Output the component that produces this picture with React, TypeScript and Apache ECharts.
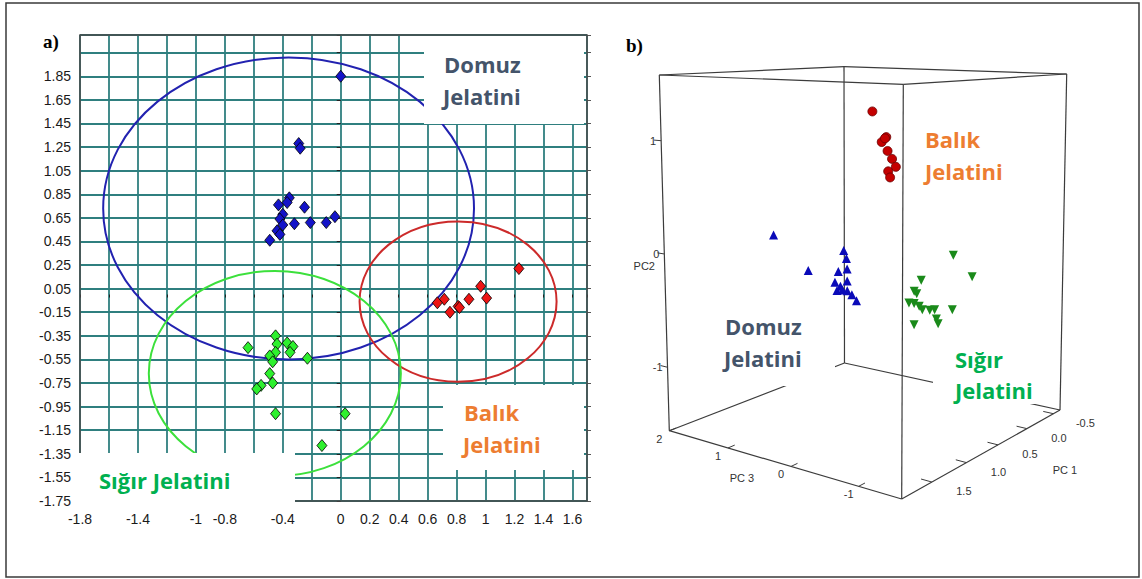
import React, { useEffect, useRef } from "react";
import * as echarts from "echarts";

const W = 1142;
const H = 579;

// ---------------- Panel a) : 2D score plot ----------------
const domuzA: number[][] = [
  [0.0, 1.85], [-0.29, 1.28], [-0.28, 1.24], [-0.355, 0.82], [-0.37, 0.78],
  [-0.43, 0.76], [-0.25, 0.74], [-0.4, 0.68], [-0.42, 0.64], [-0.4, 0.59],
  [-0.32, 0.6], [-0.21, 0.61], [-0.1, 0.61], [-0.04, 0.66], [-0.44, 0.54],
  [-0.42, 0.51], [-0.49, 0.46],
];
const balikA: number[][] = [
  [1.23, 0.22], [0.966, 0.07], [1.007, -0.03], [0.885, -0.04], [0.81, -0.1],
  [0.82, -0.11], [0.754, -0.15], [0.715, -0.04], [0.667, -0.07],
];
const sigirA: number[][] = [
  [-0.64, -0.45], [-0.45, -0.35], [-0.44, -0.42], [-0.37, -0.41], [-0.33, -0.44],
  [-0.35, -0.49], [-0.45, -0.49], [-0.49, -0.52], [-0.47, -0.57], [-0.23, -0.54],
  [-0.49, -0.67], [-0.47, -0.75], [-0.55, -0.77], [-0.58, -0.8], [-0.45, -1.01],
  [0.03, -1.01], [-0.13, -1.28],
];
// confidence ellipses: [centerX, centerY, radiusX, radiusY]
const ellipseDomuzA = [-0.36, 0.73, 1.28, 1.28];
const ellipseBalikA = [0.81, -0.06, 0.68, 0.68];
const ellipseSigirA = [-0.455, -0.67, 0.87, 0.87];
const ellipseColors = ["#2222b0", "#cc2a2a", "#3ce03c"];

const xMinA = -1.8;
const xMaxA = 1.7;
const xStepA = 0.2;
const yMinA = -1.75;
const yMaxA = 2.2;
const yStepA = 0.2;
const xUnlabelledA = [-1.6, -1.2, -0.6, -0.2, 1.7];
const yLabelCeiling = 2.0;

// ---------------- Panel b) : 3D score plot (PC1, PC2, PC3) ----------------
const balikB: number[][] = [
  [0.61, 1.24, 0.2], [0.4, 0.99, 0.2], [0.47, 0.95, 0.2], [0.42, 0.98, 0.2],
  [0.38, 0.86, 0.2], [0.31, 0.78, 0.2], [0.25, 0.7, 0.2], [0.37, 0.67, 0.2],
  [0.34, 0.61, 0.2],
];
const domuzB: number[][] = [
  [1.61, 0.23, 0.6], [1.17, -0.15, 0.6], [0.67, -0.05, 0.6], [0.63, -0.13, 0.6],
  [0.62, -0.23, 0.6], [0.75, -0.23, 0.6], [0.8, -0.32, 0.6], [0.62, -0.34, 0.6],
  [0.72, -0.37, 0.6], [0.77, -0.4, 0.6], [0.69, -0.41, 0.6], [0.62, -0.43, 0.6],
  [0.55, -0.48, 0.6], [0.48, -0.55, 0.6],
];
const sigirB: number[][] = [
  [-0.08, -0.13, -0.4], [-0.42, -0.39, -0.4], [0.45, -0.27, -0.4], [0.56, -0.35, -0.4],
  [0.52, -0.38, -0.4], [0.64, -0.44, -0.4], [0.56, -0.46, -0.4], [0.48, -0.5, -0.4],
  [0.43, -0.54, -0.4], [0.31, -0.57, -0.4], [0.23, -0.58, -0.4], [0.2, -0.67, -0.4],
  [0.17, -0.72, -0.4], [-0.07, -0.64, -0.4], [0.56, -0.65, -0.4],
];
const PC1_RANGE = [-0.63, 1.9];
const PC2_RANGE = [-1.56, 1.58];
const PC3_RANGE = [-1.6, 2];
const pc1Ticks = [-0.5, 0, 0.5, 1, 1.5];
const pc2Ticks = [-1, 0, 1];
const pc3Ticks = [2, 1, 0, -1];

// camera: screen position of the 8 box corners (R: PC1 min/PC3 min, B: PC1 min/PC3 max,
// F: PC1 max/PC3 min, L: PC1 max/PC3 max), bottom and top
const CAM = {
  R: [1060, 410], B: [844.5, 363], F: [901.7, 499], L: [669.3, 430.7],
  Rt: [1066.7, 74], Bt: [844, 66.7], Ft: [903.3, 84.3], Lt: [659.3, 75],
};
const PERSP1 = 0.798;
const PERSP3 = 0.879;

function project(p1: number, p2: number, p3: number): number[] {
  const u0 = (p1 - PC1_RANGE[0]) / (PC1_RANGE[1] - PC1_RANGE[0]);
  const u = (PERSP1 * u0) / (1 + (PERSP1 - 1) * u0);
  const s0 = (PC3_RANGE[1] - p3) / (PC3_RANGE[1] - PC3_RANGE[0]);
  const s = (PERSP3 * s0) / (1 + (PERSP3 - 1) * s0);
  const w = 1 - s;
  const v = (p2 - PC2_RANGE[0]) / (PC2_RANGE[1] - PC2_RANGE[0]);
  const bil = (r: number[], b: number[], f: number[], l: number[], k: number) =>
    (1 - u) * (1 - w) * r[k] + (1 - u) * w * b[k] + u * (1 - w) * f[k] + u * w * l[k];
  const bx = bil(CAM.R, CAM.B, CAM.F, CAM.L, 0);
  const by = bil(CAM.R, CAM.B, CAM.F, CAM.L, 1);
  const tx = bil(CAM.Rt, CAM.Bt, CAM.Ft, CAM.Lt, 0);
  const ty = bil(CAM.Rt, CAM.Bt, CAM.Ft, CAM.Lt, 1);
  return [bx + v * (tx - bx), by + v * (ty - by)];
}

const GA = { left: 80, top: 35, width: 507, height: 466 };
const TEAL = "#2f7f7f";
const LABEL_FONT = "Liberation Sans, Arial, sans-serif";
const BIG_FONT = "Open Sans, Lato, sans-serif";

function buildOption(): any {
  const fmtX = (v: number) => {
    const r = Math.round(v * 10) / 10;
    if (xUnlabelledA.some((t) => Math.abs(t - r) < 1e-6)) return "";
    return String(r === 0 ? 0 : r);
  };
  const fmtY = (v: number) => (v > yLabelCeiling ? "" : v.toFixed(2));

  // cube edges
  const ext = [0, 1];
  const corner = (i: number, j: number, k: number) =>
    project(PC1_RANGE[i], PC2_RANGE[j], PC3_RANGE[k]);
  const edges: any[] = [];
  ext.forEach((i) =>
    ext.forEach((j) =>
      ext.forEach((k) => {
        if (i === 0) edges.push({ coords: [corner(0, j, k), corner(1, j, k)] });
        if (j === 0) edges.push({ coords: [corner(i, 0, k), corner(i, 1, k)] });
        if (k === 0) edges.push({ coords: [corner(i, j, 0), corner(i, j, 1)] });
      })
    )
  );
  const ticks: any[] = [];
  pc1Ticks.forEach((t) =>
    ticks.push({ coords: [project(t, PC2_RANGE[0], PC3_RANGE[0]), project(t, PC2_RANGE[0], PC3_RANGE[0] + 0.15)] })
  );
  pc3Ticks.forEach((t) =>
    ticks.push({ coords: [project(PC1_RANGE[1], PC2_RANGE[0], t), project(PC1_RANGE[1] - 0.08, PC2_RANGE[0], t)] })
  );
  pc2Ticks.forEach((t) =>
    ticks.push({ coords: [project(PC1_RANGE[1], t, PC3_RANGE[1]), project(PC1_RANGE[1], t, PC3_RANGE[1] + 0.12)] })
  );

  const smallText = (text: string, x: number, y: number, align = "center") => ({
    type: "text",
    z: 45,
    x,
    y,
    silent: true,
    style: { text, fill: "#333", fontSize: 11, fontFamily: LABEL_FONT, align, verticalAlign: "middle" },
  });
  const bigText = (text: string, x: number, y: number, color: string) => ({
    type: "text",
    z: 52,
    x,
    y,
    silent: true,
    style: { text, fill: color, fontSize: 22, fontWeight: "bold", fontFamily: BIG_FONT, align: "left", verticalAlign: "middle" },
  });
  const whiteBox = (x: number, y: number, w: number, h: number) => ({
    type: "rect",
    z: 50,
    silent: true,
    shape: { x, y, width: w, height: h },
    style: { fill: "#fff" },
  });

  const axisLabels3d: any[] = [];
  pc1Ticks.forEach((t) => {
    const p = project(t, PC2_RANGE[0], PC3_RANGE[0]);
    axisLabels3d.push(smallText(t.toFixed(1), p[0] + 32, p[1] + 9));
  });
  pc3Ticks.forEach((t) => {
    const p = project(PC1_RANGE[1], PC2_RANGE[0], t);
    axisLabels3d.push(smallText(String(t), p[0] - 10, p[1] + 8));
  });
  pc2Ticks.forEach((t) => {
    const p = project(PC1_RANGE[1], t, PC3_RANGE[1]);
    axisLabels3d.push(smallText(String(t), p[0] - 5, p[1], "right"));
  });

  const DOMUZ = "#44546a";
  const BALIK = "#ed7d31";
  const SIGIR = "#00b050";

  return {
    animation: false,
    backgroundColor: "#fff",
    grid: [
      { left: GA.left, top: GA.top, width: GA.width, height: GA.height },
      { left: 0, top: 0, width: W, height: H },
    ],
    xAxis: [
      {
        gridIndex: 0,
        type: "value",
        min: xMinA,
        max: xMaxA,
        interval: xStepA,
        axisLine: { show: false },
        axisTick: { show: true, length: 3, lineStyle: { color: "#222" } },
        axisLabel: { fontFamily: LABEL_FONT, fontSize: 14, color: "#1a1a1a", margin: 11, formatter: fmtX },
        splitLine: { show: true, lineStyle: { color: TEAL, width: 1.8 } },
      },
      { gridIndex: 1, type: "value", min: 0, max: W, show: false },
    ],
    yAxis: [
      {
        gridIndex: 0,
        type: "value",
        position: "left",
        min: yMinA,
        max: yMaxA,
        interval: yStepA,
        axisLine: { show: false },
        axisTick: { show: true, length: 4, lineStyle: { color: "#222" } },
        axisLabel: { fontFamily: LABEL_FONT, fontSize: 14, color: "#1a1a1a", margin: 9, formatter: fmtY },
        splitLine: { show: true, lineStyle: { color: TEAL, width: 1.8 } },
      },
      {
        gridIndex: 0,
        type: "value",
        position: "right",
        min: yMinA,
        max: yMaxA,
        interval: yStepA,
        axisLine: { show: false },
        axisTick: { show: true, length: 4, lineStyle: { color: "#555" } },
        axisLabel: { show: false },
        splitLine: { show: false },
      },
      { gridIndex: 1, type: "value", min: 0, max: H, inverse: true, show: false },
    ],
    series: [
      {
        type: "custom",
        xAxisIndex: 0,
        yAxisIndex: 0,
        z: 3,
        silent: true,
        data: [ellipseDomuzA, ellipseBalikA, ellipseSigirA],
        encode: { x: 0, y: 1 },
        renderItem: (params: any, api: any) => {
          const c = api.coord([api.value(0), api.value(1)]);
          const s = api.size([api.value(2), api.value(3)]);
          return {
            type: "ellipse",
            shape: { cx: c[0], cy: c[1], rx: s[0], ry: s[1] },
            style: { fill: "none", stroke: ellipseColors[params.dataIndex], lineWidth: 2 },
          };
        },
      },
      {
        type: "scatter",
        xAxisIndex: 0,
        yAxisIndex: 0,
        z: 4,
        data: domuzA,
        symbol: "diamond",
        symbolSize: [10, 12],
        itemStyle: { color: "#1414c8", borderColor: "#000", borderWidth: 0.8, opacity: 1 },
      },
      {
        type: "scatter",
        xAxisIndex: 0,
        yAxisIndex: 0,
        z: 4,
        data: balikA,
        symbol: "diamond",
        symbolSize: [10, 12],
        itemStyle: { color: "#ec1414", borderColor: "#000", borderWidth: 0.8, opacity: 1 },
      },
      {
        type: "scatter",
        xAxisIndex: 0,
        yAxisIndex: 0,
        z: 4,
        data: sigirA,
        symbol: "diamond",
        symbolSize: [10, 12],
        itemStyle: { color: "#2ef02e", borderColor: "#000", borderWidth: 0.8, opacity: 1 },
      },
      {
        type: "lines",
        coordinateSystem: "cartesian2d",
        xAxisIndex: 1,
        yAxisIndex: 2,
        z: 2,
        silent: true,
        data: edges,
        lineStyle: { color: "#3c3c3c", width: 1.2, opacity: 1, curveness: 0 },
      },
      {
        type: "lines",
        coordinateSystem: "cartesian2d",
        xAxisIndex: 1,
        yAxisIndex: 2,
        z: 2,
        silent: true,
        data: ticks,
        lineStyle: { color: "#3c3c3c", width: 1, opacity: 1, curveness: 0 },
      },
      {
        type: "scatter",
        xAxisIndex: 1,
        yAxisIndex: 2,
        z: 4,
        data: balikB.map((p) => project(p[0], p[1], p[2])),
        symbol: "circle",
        symbolSize: 9,
        itemStyle: { color: "#c40000", borderColor: "#6a0000", borderWidth: 0.8, opacity: 1 },
      },
      {
        type: "scatter",
        xAxisIndex: 1,
        yAxisIndex: 2,
        z: 4,
        data: domuzB.map((p) => project(p[0], p[1], p[2])),
        symbol: "triangle",
        symbolSize: [9, 9],
        itemStyle: { color: "#0a0ab8", opacity: 1 },
      },
      {
        type: "scatter",
        xAxisIndex: 1,
        yAxisIndex: 2,
        z: 4,
        data: sigirB.map((p) => project(p[0], p[1], p[2])),
        symbol: "triangle",
        symbolRotate: 180,
        symbolSize: [9, 9],
        itemStyle: { color: "#1a8a1a", opacity: 1 },
      },
    ],
    graphic: [
      // plot border of panel a
      {
        type: "rect",
        z: 40,
        silent: true,
        shape: { x: GA.left, y: GA.top, width: GA.width, height: GA.height },
        style: { fill: "none", stroke: "#4a4a4a", lineWidth: 1.5 },
      },
      // label boxes in panel a
      whiteBox(424, 36, 160, 88),
      whiteBox(443, 385, 141, 85),
      whiteBox(79, 453, 216, 50),
      bigText("Domuz", 444, 64, DOMUZ),
      bigText("Jelatini", 443, 96, DOMUZ),
      bigText("Balık", 464, 412, BALIK),
      bigText("Jelatini", 463, 444, BALIK),
      bigText("Sığır Jelatini", 99, 480, SIGIR),
      // label boxes in panel b
      whiteBox(718, 305, 117, 81),
      whiteBox(933, 335, 124, 69),
      bigText("Balık", 925, 139, BALIK),
      bigText("Jelatini", 925, 171, BALIK),
      bigText("Domuz", 725, 326, DOMUZ),
      bigText("Jelatini", 724, 358, DOMUZ),
      bigText("Sığır", 955, 359, SIGIR),
      bigText("Jelatini", 955, 390, SIGIR),
      // 3D axis labels
      ...axisLabels3d,
      smallText("PC 1", 1065, 470),
      smallText("PC 3", 742, 478),
      smallText("PC2", 655, 266, "right"),
      // panel letters
      {
        type: "text",
        z: 45,
        x: 43,
        y: 41,
        style: { text: "a)", fill: "#000", fontSize: 19, fontWeight: "bold", fontFamily: "Liberation Serif, serif", align: "left", verticalAlign: "middle" },
      },
      {
        type: "text",
        z: 45,
        x: 626,
        y: 45,
        style: { text: "b)", fill: "#000", fontSize: 19, fontWeight: "bold", fontFamily: "Liberation Serif, serif", align: "left", verticalAlign: "middle" },
      },
      // outer frame
      {
        type: "rect",
        z: 60,
        silent: true,
        shape: { x: 6, y: 3, width: 1133, height: 574 },
        style: { fill: "none", stroke: "#3a3a3a", lineWidth: 1.5 },
      },
    ],
  };
}

export default function App() {
  const ref = useRef<HTMLDivElement>(null);
  useEffect(() => {
    if (!ref.current) return;
    const chart = echarts.init(ref.current, null, { renderer: "svg" });
    chart.setOption(buildOption());
    return () => chart.dispose();
  }, []);
  return (
    <div
      ref={ref}
      style={{ position: "fixed", left: 0, top: 0, width: W, height: H, background: "#fff" }}
    />
  );
}
